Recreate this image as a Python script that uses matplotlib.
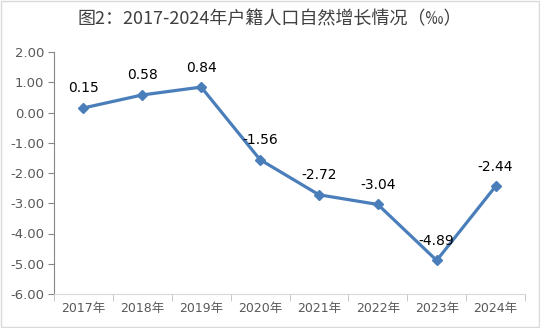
import matplotlib
matplotlib.use("Agg")
import matplotlib.pyplot as plt
from matplotlib.patches import Rectangle

plt.rcParams['font.family'] = ['DejaVu Sans', 'Noto Sans CJK SC']

years = ['2017年', '2018年', '2019年', '2020年', '2021年', '2022年', '2023年', '2024年']
rates = [0.15, 0.58, 0.84, -1.56, -2.72, -3.04, -4.89, -2.44]
yticks = [2, 1, 0, -1, -2, -3, -4, -5, -6]

fig = plt.figure(figsize=(5.4, 3.28), dpi=100)
fig.patches.append(Rectangle((0.002, 0.003), 0.996, 0.994, transform=fig.transFigure,
                             fill=False, edgecolor='#d9d9d9', linewidth=1))
ax = fig.add_axes([54 / 540, 1 - 294 / 328, 471 / 540, 242 / 328])

x = list(range(len(years)))
ax.plot(x, rates, color='#4a7ebb', linewidth=2.3, marker='D', markersize=5.5,
        markerfacecolor='#4a7ebb', markeredgecolor='#4a7ebb')
for xi, v in zip(x, rates):
    ax.annotate(f'{v:.2f}', (xi, v), xytext=(0, 9), textcoords='offset points',
                ha='center', va='bottom', fontsize=10, color='black')

ax.set_xlim(-0.5, len(years) - 0.5)
ax.set_ylim(-6, 2)
ax.set_yticks(yticks)
ax.set_yticklabels([f'{t:.2f}' for t in yticks])
ax.set_xticks(x)
ax.set_xticklabels(years, family=['DejaVu Sans', 'Noto Sans CJK SC'])
# category separators between the years
ax.set_xticks([i - 0.5 for i in range(len(years) + 1)], minor=True)
ax.tick_params(axis='x', which='major', length=0, pad=6, labelsize=9, labelcolor='#595959')
ax.tick_params(axis='x', which='minor', length=5, color='#bfbfbf', direction='out')
ax.tick_params(axis='y', length=4, color='#868686', labelsize=9.5, labelcolor='#595959', pad=3)

for s in ['top', 'right']:
    ax.spines[s].set_visible(False)
ax.spines['left'].set_color('#868686')
ax.spines['bottom'].set_color('#d9d9d9')

title = '图2：2017-2024年户籍人口自然增长情况（‰）'
fig.text(0.5, 1 - 19 / 328, title, ha='center', va='center',
         fontsize=13, color='#404040', family=['Noto Sans CJK SC', 'DejaVu Sans'])

fig.savefig('out.png', dpi=100)
